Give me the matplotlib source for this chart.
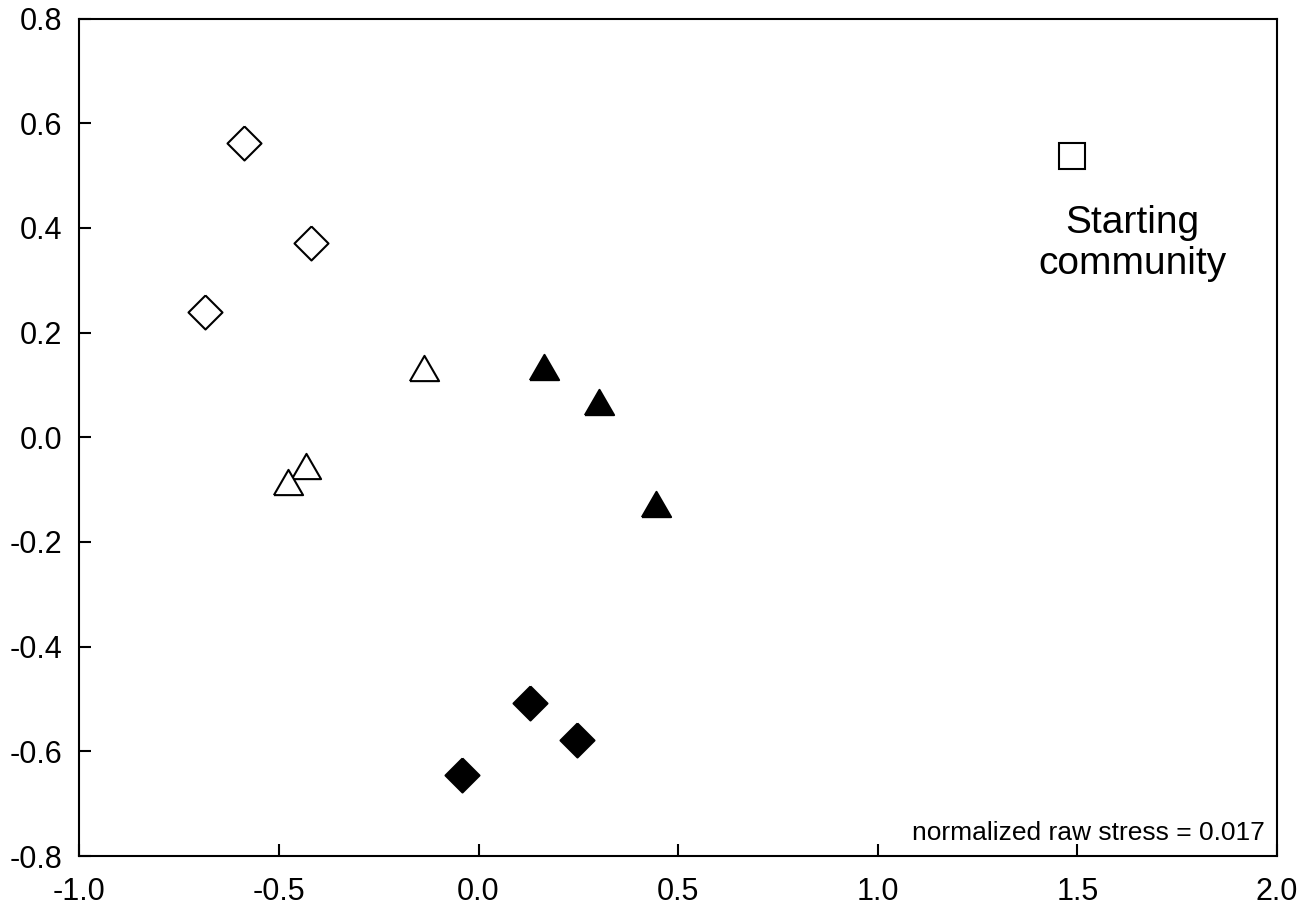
import matplotlib
matplotlib.use("Agg")
import matplotlib.pyplot as plt

plt.rcParams['font.family'] = ['Liberation Sans', 'DejaVu Sans']
plt.rcParams['axes.unicode_minus'] = False

# NMDS ordination scores
open_diamond_x = [-0.588, -0.420, -0.685]
open_diamond_y = [0.563, 0.371, 0.239]
open_tri_x = [-0.137, -0.432, -0.476]
open_tri_y = [0.133, -0.054, -0.086]
filled_tri_x = [0.165, 0.301, 0.445]
filled_tri_y = [0.135, 0.067, -0.128]
filled_diamond_x = [0.129, 0.246, -0.041]
filled_diamond_y = [-0.508, -0.578, -0.645]
start_x = [1.486]
start_y = [0.537]

x_ticks = [-1.0, -0.5, 0.0, 0.5, 1.0, 1.5, 2.0]
y_ticks = [-0.8, -0.6, -0.4, -0.2, 0.0, 0.2, 0.4, 0.6, 0.8]
stress_label = 'normalized raw stress = 0.017'
start_label = 'Starting\ncommunity'

diamond = [(0, 1), (1, 0), (0, -1), (-1, 0), (0, 1)]
triangle = [(-1, -0.866), (1, -0.866), (0, 0.866), (-1, -0.866)]

fig = plt.figure(figsize=(13.06, 9.09), dpi=100)
ax = fig.add_axes([0.0607, 0.0583, 0.9171, 0.9213])

ax.plot(open_diamond_x, open_diamond_y, linestyle='none', marker=diamond,
        ms=24.5, mfc='white', mec='black', mew=1.5)
ax.plot(open_tri_x, open_tri_y, linestyle='none', marker=triangle,
        ms=21, mfc='white', mec='black', mew=1.5)
ax.plot(filled_tri_x, filled_tri_y, linestyle='none', marker=triangle,
        ms=21, mfc='black', mec='black', mew=1.5)
ax.plot(filled_diamond_x, filled_diamond_y, linestyle='none', marker=diamond,
        ms=24.5, mfc='black', mec='black', mew=1.5)
ax.plot(start_x, start_y, linestyle='none', marker='s',
        ms=18.7, mfc='white', mec='black', mew=1.5)

ax.text(1.637, 0.370, start_label, ha='center', va='center',
        fontsize=28, linespacing=1.18)
ax.text(1.970, -0.7695, stress_label, ha='right', va='baseline', fontsize=19)

ax.set_xlim(-1.0, 2.0)
ax.set_ylim(-0.8, 0.8)
ax.set_xticks(x_ticks)
ax.set_xticklabels([f'{v:.1f}' for v in x_ticks])
ax.set_yticks(y_ticks)
ax.set_yticklabels([f'{v:.1f}' for v in y_ticks])

for s in ax.spines.values():
    s.set_linewidth(1.5)
ax.tick_params(axis='x', direction='in', length=8.5, width=1.5, pad=15,
               labelsize=22)
ax.tick_params(axis='y', direction='in', length=8.5, width=1.5, pad=12.5,
               labelsize=22)

fig.savefig('out.png', dpi=100)
